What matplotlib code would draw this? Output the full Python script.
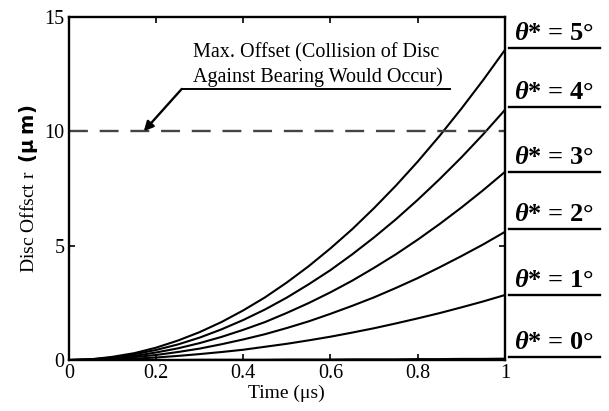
import matplotlib
matplotlib.use("Agg")
import numpy as np
import matplotlib.pyplot as plt

plt.rcParams['font.family'] = ['Liberation Serif', 'DejaVu Serif']
plt.rcParams['mathtext.fontset'] = 'custom'
plt.rcParams['mathtext.it'] = 'Liberation Serif:italic:bold'
plt.rcParams['mathtext.rm'] = 'Liberation Serif:bold'
plt.rcParams['mathtext.bf'] = 'DejaVu Sans:bold'

# values (time in us, offset in um)
time = [0.0, 0.05, 0.1, 0.15, 0.2, 0.25, 0.3, 0.35, 0.4, 0.45, 0.5,
        0.55, 0.6, 0.65, 0.7, 0.75, 0.8, 0.85, 0.9, 0.95, 1.0]
r_0deg = [0.0, 0.0, 0.0, 0.0, 0.0, 0.0, 0.01, 0.01, 0.01, 0.01, 0.02,
          0.02, 0.02, 0.03, 0.03, 0.03, 0.04, 0.04, 0.05, 0.05, 0.06]
r_1deg = [0.0, 0.01, 0.03, 0.06, 0.11, 0.18, 0.26, 0.35, 0.45, 0.58, 0.71,
          0.86, 1.02, 1.20, 1.39, 1.60, 1.82, 2.05, 2.30, 2.56, 2.84]
r_2deg = [0.0, 0.01, 0.06, 0.13, 0.22, 0.35, 0.50, 0.69, 0.90, 1.13, 1.40,
          1.69, 2.02, 2.37, 2.74, 3.15, 3.58, 4.05, 4.54, 5.05, 5.60]
r_3deg = [0.0, 0.02, 0.08, 0.18, 0.33, 0.51, 0.74, 1.01, 1.32, 1.66, 2.06,
          2.49, 2.96, 3.47, 4.03, 4.62, 5.26, 5.94, 6.66, 7.42, 8.22]
r_4deg = [0.0, 0.03, 0.11, 0.25, 0.44, 0.68, 0.98, 1.34, 1.75, 2.21, 2.73,
          3.31, 3.93, 4.62, 5.36, 6.15, 7.00, 7.90, 8.85, 9.86, 10.93]
r_5deg = [0.0, 0.03, 0.14, 0.30, 0.54, 0.85, 1.22, 1.66, 2.17, 2.74, 3.39,
          4.10, 4.88, 5.72, 6.64, 7.62, 8.67, 9.79, 10.98, 12.23, 13.55]
angles = ['0', '1', '2', '3', '4', '5']
label_y = [0.13, 2.84, 5.73, 8.22, 11.06, 13.64]
max_offset = 10

fig = plt.figure(figsize=(6.09, 4.11), dpi=100)
ax = fig.add_axes([0.113, 0.124, 0.716, 0.835])

for r in (r_0deg, r_1deg, r_2deg, r_3deg, r_4deg, r_5deg):
    ax.plot(time, r, color='black', lw=1.5)

ax.plot([0, 1], [max_offset, max_offset], color='#444444', lw=1.7,
        dashes=(8, 5))

# labels on the right with underlines
for a, y in zip(angles, label_y):
    ax.plot([1.01, 1.218], [y, y], color='black', lw=1.7, clip_on=False)
    ax.text(1.02, y + 0.12, r'$\theta$* = ' + a + '°', fontsize=19,
            fontweight='bold', va='bottom', ha='left', clip_on=False)

# annotation
ax.text(0.284, 11.95, 'Max. Offset (Collision of Disc\nAgainst Bearing Would Occur)',
        fontsize=14.5, va='bottom', ha='left', linespacing=1.3)
ax.plot([0.259, 0.874], [11.85, 11.85], color='black', lw=1.4)
ax.annotate('', xy=(0.172, 10.0), xytext=(0.259, 11.85),
            arrowprops=dict(arrowstyle='-|>', color='black', lw=1.7,
                            mutation_scale=14, shrinkA=0, shrinkB=0))

ax.set_xlim(0, 1)
ax.set_ylim(0, 15)
ax.set_xticks([0, 0.2, 0.4, 0.6, 0.8, 1])
ax.set_xticklabels(['0', '0.2', '0.4', '0.6', '0.8', '1'])
ax.set_yticks([0, 5, 10, 15])
ax.tick_params(direction='in', top=True, right=True, labelsize=14.5,
               length=4, width=1.2, pad=3)
for s in ax.spines.values():
    s.set_linewidth(1.7)

ax.set_xlabel('Time (μs)', fontsize=14, labelpad=1)
ax.set_ylabel(r'Disc Offsct r  $\mathbf{(\mu\ m)}$', fontsize=14, labelpad=3)

fig.savefig('out.png', dpi=100)
